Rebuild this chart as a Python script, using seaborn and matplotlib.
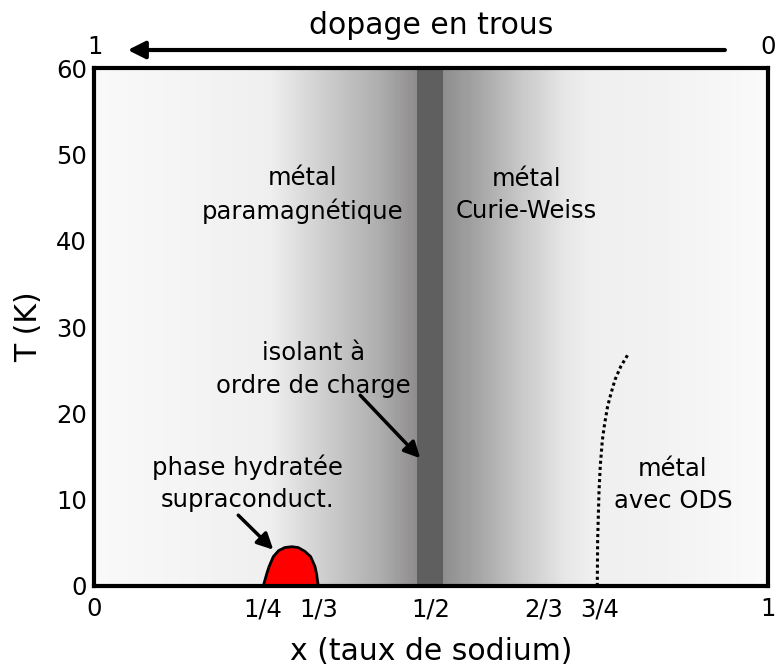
import matplotlib
matplotlib.use('Agg')
import numpy as np
import pandas as pd
import matplotlib.pyplot as plt
from matplotlib.colors import LinearSegmentedColormap
import seaborn as sns

sns.set_style('white')
plt.rcParams['font.family'] = ['DejaVu Sans']
plt.rcParams['text.color'] = 'black'
plt.rcParams['axes.labelcolor'] = 'black'
plt.rcParams['xtick.color'] = 'black'
plt.rcParams['ytick.color'] = 'black'

# background shading: (x, grey level)
shade_x = [0.0, 0.26, 0.30, 0.36, 0.42, 0.479, 0.518, 0.57, 0.63, 0.70, 0.74, 0.87, 1.0]
shade_level = [0.98, 0.94, 0.875, 0.78, 0.69, 0.555, 0.56, 0.65, 0.78, 0.91, 0.94, 0.955, 0.985]

# charge-ordered insulator band around x = 1/2
insulator_band = [0.479, 0.518]

# superconducting dome (hydrated phase)
dome_x = [0.2512, 0.2522, 0.2537, 0.2562, 0.2597, 0.266, 0.274, 0.283, 0.2933,
          0.303, 0.313, 0.3214, 0.3279, 0.3302, 0.3314, 0.3328]
dome_T = [0.0, 0.3, 0.7, 1.4, 2.24, 3.4, 4.1, 4.45, 4.55,
          4.45, 4.0, 3.4, 2.24, 1.4, 0.7, 0.0]

# SDW boundary (dotted)
sdw_x = [0.7467, 0.7472, 0.7493, 0.7512, 0.7542, 0.7576, 0.762, 0.767, 0.773, 0.7813, 0.792]
sdw_T = [0.0, 5.3, 11.1, 14.0, 16.9, 18.8, 20.8, 22.3, 23.9, 25.4, 26.8]

tick_pos = [0, 1/4, 1/3, 1/2, 2/3, 3/4, 1]
tick_lab = ['0', '1/4', '1/3', '1/2', '2/3', '3/4', '1']

fig = plt.figure(figsize=(7.75, 6.68), dpi=100)
ax = fig.add_axes([0.1213, 0.1228, 0.8697, 0.7752])

# gradient background
cmap = LinearSegmentedColormap.from_list(
    'shade', [(p, (g + 0.008 * (1 - g), g - 0.004 * (1 - g), g - 0.004 * (1 - g)))
              for p, g in zip(shade_x, shade_level)])
ax.imshow(np.linspace(0, 1, 800)[None, :], extent=[0, 1, 0, 60], aspect='auto',
          cmap=cmap, vmin=0, vmax=1, zorder=0, interpolation='bilinear')
ax.axvspan(insulator_band[0], insulator_band[1], color='#5f5f5f', lw=0, zorder=1)

# dome
ax.fill_between(dome_x, dome_T, 0, color='#ff0000', lw=0, zorder=2)
dome = pd.DataFrame({'x': dome_x, 'T': dome_T})
sns.lineplot(data=dome, x='x', y='T', sort=False, estimator=None, color='black', lw=2, ax=ax, zorder=3)

sdw = pd.DataFrame({'x': sdw_x, 'T': sdw_T})
sns.lineplot(data=sdw, x='x', y='T', sort=False, estimator=None, color='black', lw=2.2,
             linestyle=(0, (1, 1)), ax=ax, zorder=3)

ax.set_xlim(0, 1)
ax.set_ylim(0, 60)
ax.set_xticks(tick_pos)
ax.set_xticklabels(tick_lab)
ax.set_yticks([0, 10, 20, 30, 40, 50, 60])
ax.tick_params(axis='x', direction='in', length=11, width=1.8, labelsize=17.5, pad=8)
ax.tick_params(axis='y', direction='in', length=6.5, width=1.8, labelsize=17.5, pad=5)
for s in ax.spines.values():
    s.set_linewidth(3)
    s.set_color('black')
    s.set_zorder(5)

ax.set_xlabel('x (taux de sodium)', fontsize=21.5)
ax.set_ylabel('T (K)', fontsize=21.5)
ax.xaxis.set_label_coords(0.5, -0.098)
ax.yaxis.set_label_coords(-0.076, 0.5)

txt = dict(fontsize=17.5, ha='center', va='center', linespacing=1.45)
ax.text(0.31, 45.3, 'métal\nparamagnétique', **txt)
ax.text(0.642, 45.3, 'métal\nCurie-Weiss', **txt)
ax.text(0.325, 25.1, 'isolant à\nordre de charge', **txt)
ax.text(0.227, 11.9, 'phase hydratée\nsupraconduct.', **txt)
ax.text(0.859, 11.7, 'métal\navec ODS', **txt)

arrow = dict(arrowstyle='-|>', lw=2.5, color='black', mutation_scale=24, shrinkA=0, shrinkB=0)
ax.annotate('', xy=(0.484, 14.8), xytext=(0.395, 22.1), arrowprops=arrow, zorder=4)
ax.annotate('', xy=(0.266, 4.2), xytext=(0.214, 8.2), arrowprops=arrow, zorder=4)

# hole doping arrow above the axes
ax.annotate('', xy=(0.05, 1.035), xytext=(0.936, 1.035), xycoords='axes fraction',
            arrowprops=dict(arrowstyle='-|>', lw=3, color='black', mutation_scale=26,
                            shrinkA=0, shrinkB=0), annotation_clip=False)
ax.text(0.0015, 1.04, '1', transform=ax.transAxes, fontsize=17.5, ha='center', va='center')
ax.text(1.0, 1.04, '0', transform=ax.transAxes, fontsize=17.5, ha='center', va='center')
ax.text(0.5, 1.083, 'dopage en trous', transform=ax.transAxes, fontsize=21.5, ha='center', va='center')

fig.savefig('out.png', dpi=100)
